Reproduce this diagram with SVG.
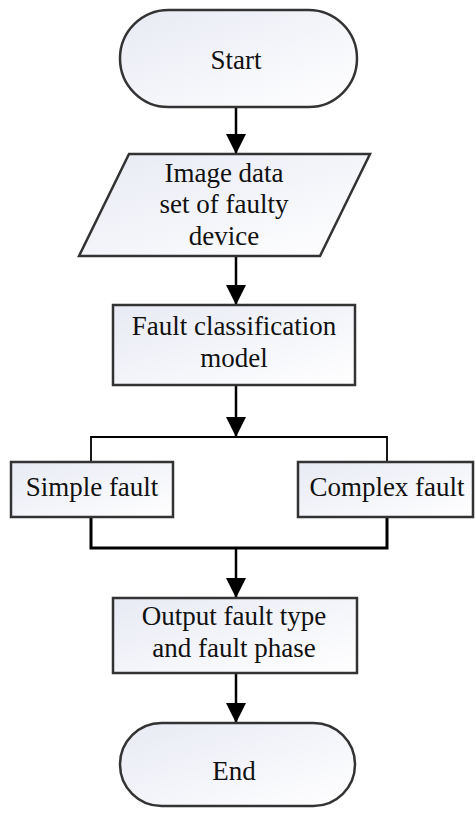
<svg xmlns="http://www.w3.org/2000/svg" width="475" height="816" viewBox="0 0 475 816">
<defs>
<linearGradient id="g" x1="0" y1="0" x2="1" y2="1">
<stop offset="0" stop-color="#e8eaf4"/>
<stop offset="1" stop-color="#ffffff"/>
</linearGradient>
<marker id="ah" markerUnits="userSpaceOnUse" markerWidth="22" markerHeight="20" refX="20" refY="10" orient="auto">
<path d="M0,0 L20,10 L0,20 Z" fill="#000"/>
</marker>
<style>
.n{fill:url(#g);stroke:#333;stroke-width:2.5}
.t{font-family:"Liberation Serif","Times New Roman",serif;font-size:27px;fill:#111;text-anchor:middle}
.c{fill:none;stroke:#000;stroke-width:2.5}
</style>
</defs>
<rect width="475" height="816" fill="#fff"/>
<g id="connectors">
<line class="c" x1="236" y1="107" x2="236" y2="154" marker-end="url(#ah)"/>
<line class="c" x1="236" y1="256" x2="236" y2="305" marker-end="url(#ah)"/>
<line class="c" x1="236" y1="385" x2="236" y2="437" marker-end="url(#ah)"/>
<polyline class="c" style="stroke-width:1.8" points="91,462 91,437 387,437 387,462"/>
<polyline class="c" style="stroke-width:3" points="91,517 91,548 387,548 387,517"/>
<line class="c" x1="236" y1="548" x2="236" y2="598" marker-end="url(#ah)"/>
<line class="c" x1="236" y1="673" x2="236" y2="723" marker-end="url(#ah)"/>
</g>
<g id="start">
<rect class="n" x="120" y="10" width="237" height="97" rx="48.5" ry="48.5"/>
<text class="t" x="236" y="69">Start</text>
</g>
<g id="data">
<polygon class="n" points="129,154 370,154 320,256 79,256"/>
<text class="t" x="224" y="182">Image data</text>
<text class="t" x="224" y="213">set of faulty</text>
<text class="t" x="224" y="245">device</text>
</g>
<g id="model">
<rect class="n" x="113" y="305" width="242" height="80"/>
<text class="t" x="234" y="335">Fault classification</text>
<text class="t" x="234" y="367">model</text>
</g>
<g id="simple">
<rect class="n" x="11" y="462" width="162" height="55"/>
<text class="t" x="92" y="496">Simple fault</text>
</g>
<g id="complex">
<rect class="n" x="298" y="462" width="175" height="55"/>
<text class="t" x="387" y="496">Complex fault</text>
</g>
<g id="output">
<rect class="n" x="113" y="598" width="244" height="75"/>
<text class="t" x="234" y="625">Output fault type</text>
<text class="t" x="234" y="657">and fault phase</text>
</g>
<g id="end">
<rect class="n" x="120" y="723" width="235" height="83" rx="41.5" ry="41.5"/>
<text class="t" x="234" y="780">End</text>
</g>
</svg>
